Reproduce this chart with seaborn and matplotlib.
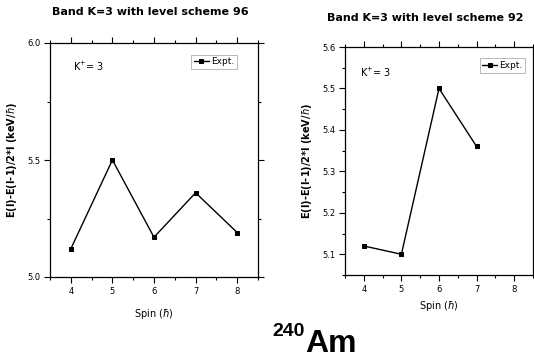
import matplotlib
matplotlib.use('Agg')
import matplotlib.pyplot as plt
import numpy as np
import pandas as pd
import seaborn as sns
from matplotlib.ticker import MultipleLocator

sns.set_style('ticks')
plt.rcParams['font.family'] = ['Liberation Sans Narrow', 'DejaVu Sans']
plt.rcParams['text.color'] = 'black'
plt.rcParams['axes.labelcolor'] = 'black'
plt.rcParams['xtick.color'] = 'black'
plt.rcParams['ytick.color'] = 'black'

# data
spin_96 = [4, 5, 6, 7, 8]
energy_96 = [5.12, 5.50, 5.17, 5.36, 5.19]
spin_92 = [4, 5, 6, 7]
energy_92 = [5.12, 5.10, 5.50, 5.36]
yticks_96 = [5.0, 5.5, 6.0]
yticks_92 = [5.1, 5.2, 5.3, 5.4, 5.5, 5.6]

df96 = pd.DataFrame({'Spin': spin_96, 'E': energy_96})
df92 = pd.DataFrame({'Spin': spin_92, 'E': energy_92})

W, H = 534, 360
fig = plt.figure(figsize=(W / 100, H / 100), dpi=100)

def style_axes(ax, ylim, yticks, ymin, xpad, kpos, legpos):
    ax.set_xlim(3.5, 8.5)
    ax.set_ylim(*ylim)
    ax.xaxis.set_major_locator(MultipleLocator(1))
    ax.xaxis.set_minor_locator(MultipleLocator(0.5))
    ax.set_yticks(yticks)
    ax.set_yticklabels(['%.1f' % v for v in yticks])
    ax.yaxis.set_minor_locator(MultipleLocator(ymin))
    ax.tick_params(which='both', direction='in', top=True, right=True,
                   labelsize=6, width=0.8, pad=3)
    ax.tick_params(which='major', length=4)
    ax.tick_params(which='minor', length=2)
    ax.tick_params(axis='y', direction='out', which='both', left=True)
    ax.tick_params(axis='x', direction='out', which='both', bottom=True)
    for s in ax.spines.values():
        s.set_linewidth(0.9)
        s.set_color('black')
    ax.set_xlabel('Spin ($\\hbar$)', fontsize=7, labelpad=xpad)
    ax.set_ylabel('E(I)-E(I-1)/2*I (keV/$\\hbar$)', fontsize=7,
                  fontweight='bold', labelpad=6)
    ax.text(kpos[0], kpos[1], 'K$^{+}$= 3', transform=ax.transAxes,
            fontsize=7, va='center')
    leg = ax.legend(['Expt.'], loc='upper right', bbox_to_anchor=legpos,
                    fontsize=6.5, frameon=True, fancybox=False,
                    edgecolor='#999999', handlelength=1.6,
                    handletextpad=0.3, borderpad=0.3, borderaxespad=0)
    leg.get_frame().set_linewidth(0.6)

ax1 = fig.add_axes([50 / W, 1 - 277 / H, 208 / W, 234 / H])
sns.lineplot(data=df96, x='Spin', y='E', ax=ax1, color='black', marker='s',
             markersize=3.2, linewidth=1.0, markeredgecolor='black')
style_axes(ax1, (5.0, 6.0), yticks_96, 0.25, 8, (0.11, 0.9), (0.9, 0.95))

ax2 = fig.add_axes([345 / W, 1 - 275 / H, 188 / W, 228 / H])
sns.lineplot(data=df92, x='Spin', y='E', ax=ax2, color='black', marker='s',
             markersize=3.2, linewidth=1.0, markeredgecolor='black')
style_axes(ax2, (5.05, 5.6), yticks_92, 0.05, 4, (0.08, 0.89), (0.96, 0.95))

fig.text(150 / W, 1 - 12 / H, 'Band K=3 with level scheme 96', ha='center',
         va='center', fontsize=8, fontweight='bold', family='DejaVu Sans')
fig.text(425 / W, 1 - 18 / H, 'Band K=3 with level scheme 92', ha='center',
         va='center', fontsize=8, fontweight='bold', family='DejaVu Sans')
fig.text(305 / W, 1 - 331 / H, '240', ha='right', va='center',
         fontsize=14, fontweight='bold', family='Liberation Sans')
fig.text(305 / W, 1 - 344 / H, 'Am', ha='left', va='center',
         fontsize=23, fontweight='bold', family='Liberation Sans')

fig.savefig('out.png', dpi=100)
